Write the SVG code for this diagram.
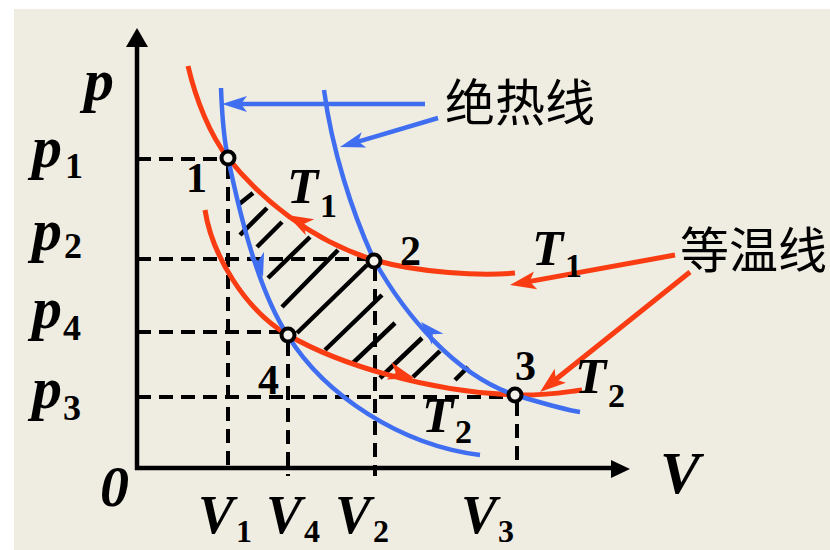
<svg xmlns="http://www.w3.org/2000/svg" xmlns:xlink="http://www.w3.org/1999/xlink" width="830" height="550" viewBox="0 0 830 550">
<style>
.bg{fill:#EFECE2}
.axis{stroke:#000;stroke-width:4.5;fill:none}
.dash{stroke:#000;stroke-width:4;stroke-dasharray:14 8;fill:none}
.hatch{stroke:#000;stroke-width:4.5;fill:none}
.iso{stroke:#FA3C12;stroke-width:5;fill:none}
.adi{stroke:#3F6EF0;stroke-width:4.5;fill:none}
.ptrR{stroke:#FA3C12;stroke-width:5;fill:none;marker-end:url(#arrR)}
.ptrB{stroke:#3F6EF0;stroke-width:4.5;fill:none;marker-end:url(#arrB)}
.pt{fill:#F3F1EA;stroke:#000;stroke-width:4}
.it{font-family:"Liberation Serif","Times New Roman",serif;font-weight:bold;font-style:italic;fill:#000}
.up{font-family:"Liberation Serif","Times New Roman",serif;font-weight:bold;font-style:normal;fill:#000}
.cn{font-family:"Noto Sans CJK SC","Noto Sans",sans-serif;fill:#000}
</style>
<defs>
<marker id="arrR" markerUnits="userSpaceOnUse" orient="auto" overflow="visible" markerWidth="1" markerHeight="1" refX="0" refY="0">
<path d="M-14,-9 L12,0 L-14,9 L-8,0 Z" fill="#FA3C12"/>
</marker>
<marker id="arrB" markerUnits="userSpaceOnUse" orient="auto" overflow="visible" markerWidth="1" markerHeight="1" refX="0" refY="0">
<path d="M-13,-8 L12,0 L-13,8 L-7,0 Z" fill="#3F6EF0"/>
</marker>
<path id="ahR" d="M0,0 L-26,-9 L-19,0 L-26,9 Z" fill="#FA3C12"/>
<path id="ahB" d="M0,0 L-24,-8 L-17,0 L-24,8 Z" fill="#3F6EF0"/>
</defs>

<rect x="0" y="0" width="830" height="550" fill="#FFFFFF"/>
<rect class="bg" x="14" y="9" width="816" height="541"/>

<g id="axes">
<line class="axis" x1="137" y1="470" x2="137" y2="44"/>
<polygon points="137,28 126,47 148,47" fill="#000"/>
<line class="axis" x1="135" y1="468" x2="614" y2="468"/>
<polygon points="630,469 611,460 611,478" fill="#000"/>
</g>

<g id="guides">
<path class="dash" d="M137,159 H222"/>
<path class="dash" d="M137,259 H367"/>
<path class="dash" d="M137,332 H281"/>
<path class="dash" d="M137,397 H508"/>
<path class="dash" d="M228,165 V467"/>
<path class="dash" d="M288,342 V476"/>
<path class="dash" d="M375,267 V476"/>
<path class="dash" d="M517,402 V466"/>
</g>

<g id="hatching">
<path class="hatch" d="M238,205 L253,193 M240,235 L267,208 M257,247 L282,222 M268,278 L310,237 M282,307 L338,250 M297,333 L367,265 M325,350 L382,295 M353,363 L395,323 M380,378 L422,338 M413,377 L440,351 M455,380 L468,367"/>
</g>

<g id="connectors">
<path id="isoT1" class="iso" d="M188,66 C196,100 210,135 228,158 C260,198 310,240 374,260 C420,273 480,276 515,273"/>
<path id="isoT2" class="iso" d="M205,210 C212,255 245,310 288,335 C340,365 430,392 515,395 C545,396 565,392 582,390"/>
<path id="adiL" class="adi" d="M221,88 C222,115 224,140 228,158 C240,215 258,290 288,336 C325,395 400,445 480,455"/>
<path id="adiR" class="adi" d="M324,90 C332,150 352,212 374,260 C405,315 455,375 515,395 C545,404 565,410 580,412"/>
<use xlink:href="#ahR" transform="translate(287,215) rotate(-152)"/>
<use xlink:href="#ahR" transform="translate(414,378) rotate(16)"/>
<use xlink:href="#ahB" transform="translate(263,277) rotate(74)"/>
<use xlink:href="#ahB" transform="translate(421,322) rotate(-134)"/>
<path class="ptrB" d="M425,104 L234,104"/>
<path class="ptrB" d="M438,118 L351.5,143.6"/>
<path class="ptrR" d="M675,255 L521.8,282.9"/>
<path class="ptrR" d="M690,272 L549.4,384.5"/>
</g>

<g id="point1"><circle class="pt" cx="228" cy="158" r="6.5"/><text class="up" x="186" y="192" font-size="42">1</text></g>
<g id="point2"><circle class="pt" cx="374" cy="261" r="6.5"/><text class="up" x="400" y="265" font-size="42">2</text></g>
<g id="point3"><circle class="pt" cx="515" cy="395" r="6.5"/><text class="up" x="515" y="380" font-size="42">3</text></g>
<g id="point4"><circle class="pt" cx="288" cy="335" r="6.5"/><text class="up" x="258" y="394" font-size="42">4</text></g>

<g id="axis-labels">
<text class="it" x="84" y="100" font-size="60">p</text>
<text class="it" x="100" y="506" font-size="58">0</text>
<text class="it" x="660" y="493" font-size="60">V</text>
</g>

<g id="p-labels">
<text class="it" x="32" y="167" font-size="60">p<tspan class="up" x="65" y="178" font-size="36">1</tspan></text>
<text class="it" x="32" y="250" font-size="60">p<tspan class="up" x="64" y="258" font-size="36">2</tspan></text>
<text class="it" x="32" y="328" font-size="60">p<tspan class="up" x="63" y="340" font-size="36">4</tspan></text>
<text class="it" x="32" y="408" font-size="60">p<tspan class="up" x="63" y="420" font-size="36">3</tspan></text>
</g>

<g id="v-labels">
<text class="it" x="198" y="533" font-size="54">V<tspan class="up" x="236" y="542" font-size="32">1</tspan></text>
<text class="it" x="266" y="533" font-size="54">V<tspan class="up" x="304" y="542" font-size="32">4</tspan></text>
<text class="it" x="335" y="533" font-size="54">V<tspan class="up" x="373" y="542" font-size="32">2</tspan></text>
<text class="it" x="461" y="533" font-size="54">V<tspan class="up" x="498" y="542" font-size="32">3</tspan></text>
</g>

<g id="t-labels">
<text class="it" x="287" y="203" font-size="51">T<tspan class="up" x="320" y="217" font-size="34">1</tspan></text>
<text class="it" x="532" y="265" font-size="51">T<tspan class="up" x="565" y="277" font-size="34">1</tspan></text>
<text class="it" x="422" y="432" font-size="51">T<tspan class="up" x="455" y="443" font-size="34">2</tspan></text>
<text class="it" x="575" y="393" font-size="51">T<tspan class="up" x="608" y="407" font-size="34">2</tspan></text>
</g>

<g id="label-adiabat"><text class="cn" x="445" y="121" font-size="50">绝热线</text></g>
<g id="label-isotherm"><text class="cn" x="680" y="268" font-size="49">等温线</text></g>
</svg>
